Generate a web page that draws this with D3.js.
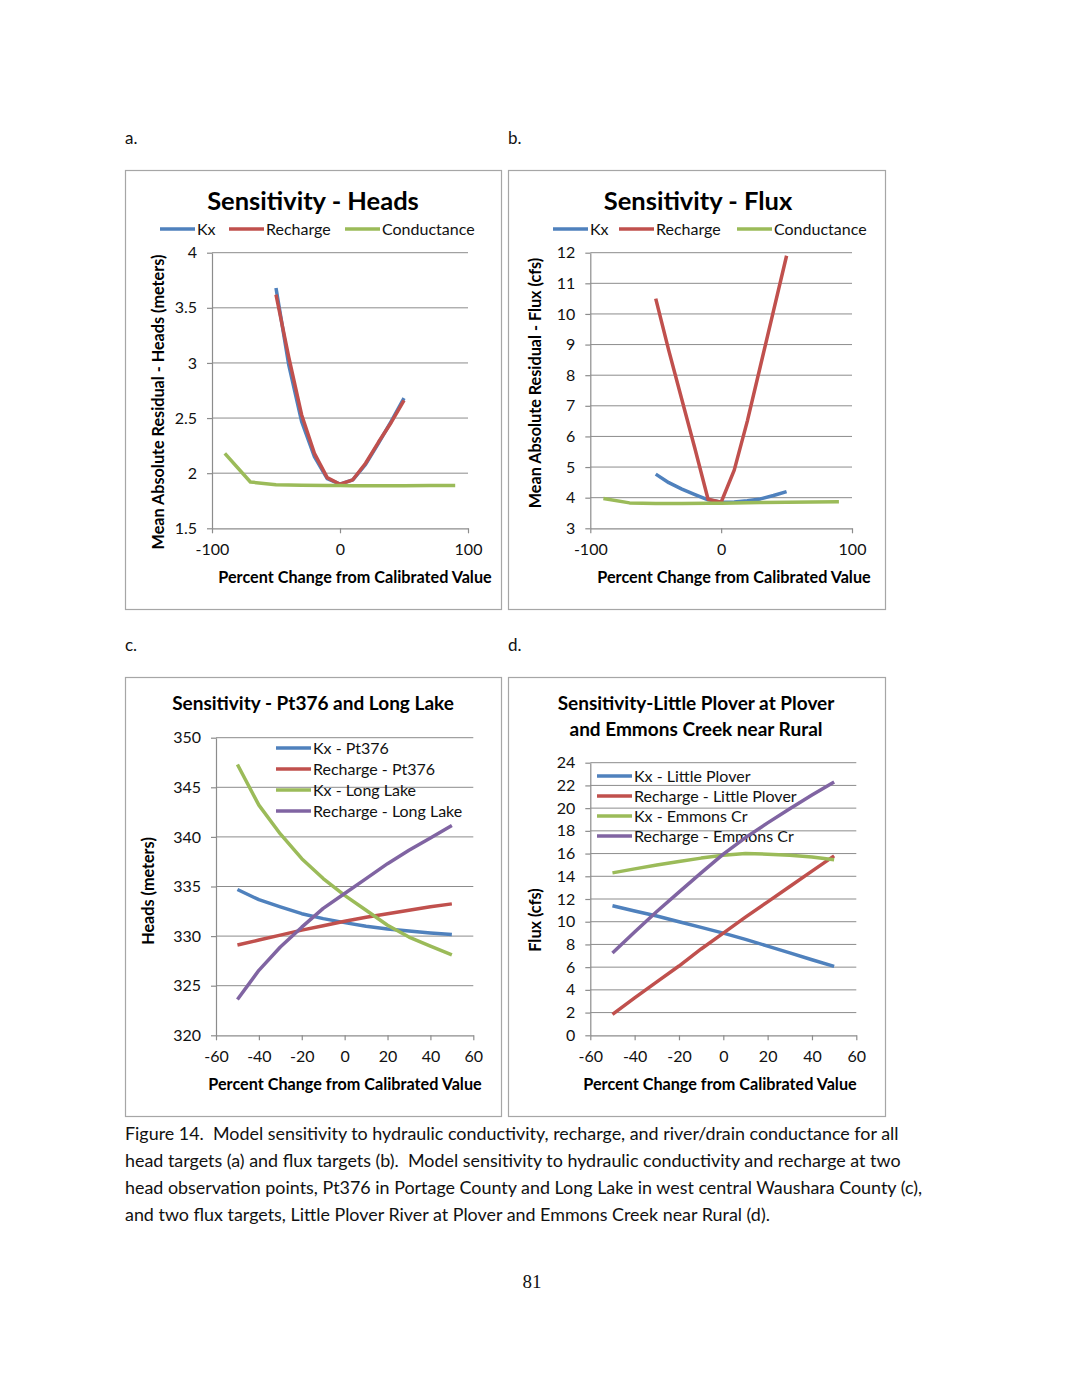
<!DOCTYPE html>
<html>
<head>
<meta charset="utf-8">
<script src="https://cdn.jsdelivr.net/npm/d3@7"></script>
<style>
  body { margin: 0; background: #fff; }
  svg { display: block; }
  text { white-space: pre; }
</style>
</head>
<body>
<svg width="1066" height="1380"></svg>
<script>
// ---- data ----
const pctMain = [-50, -40, -30, -20, -10, 0, 10, 20, 30, 40, 50];
const pctCond = [-90, -70, -50, -30, -10, 0, 10, 30, 50, 70, 90];

// a. Sensitivity - Heads (mean absolute residual, meters)
const headsKx = [3.68, 2.98, 2.47, 2.15, 1.95, 1.9, 1.94, 2.08, 2.27, 2.47, 2.68];
const headsRecharge = [3.62, 3.05, 2.53, 2.18, 1.96, 1.9, 1.94, 2.09, 2.28, 2.46, 2.66];
const headsCond = [2.18, 1.92, 1.895, 1.89, 1.888, 1.888, 1.887, 1.887, 1.887, 1.888, 1.888];

// b. Sensitivity - Flux (mean absolute residual, cfs)
const fluxKx = [4.77, 4.49, 4.28, 4.1, 3.93, 3.85, 3.86, 3.9, 3.96, 4.07, 4.2];
const fluxRecharge = [10.5, 8.8, 7.2, 5.6, 3.95, 3.85, 4.9, 6.5, 8.3, 10.1, 11.9];
const fluxCond = [3.97, 3.83, 3.81, 3.81, 3.82, 3.82, 3.83, 3.84, 3.85, 3.86, 3.87];

// c. Pt376 and Long Lake heads (meters)
const pt376Kx = [334.7, 333.67, 332.94, 332.26, 331.76, 331.36, 330.99, 330.72, 330.52, 330.32, 330.15];
const pt376Recharge = [329.1, 329.6, 330.1, 330.6, 331.05, 331.5, 331.9, 332.25, 332.6, 332.95, 333.25];
const longLakeKx = [347.3, 343.2, 340.3, 337.8, 335.8, 334.1, 332.6, 331.1, 329.9, 329.0, 328.1];
const longLakeRecharge = [323.6, 326.55, 328.9, 330.9, 332.8, 334.3, 335.8, 337.3, 338.65, 339.9, 341.15];

// d. Little Plover and Emmons Creek flux (cfs)
const ploverKx = [11.4, 10.95, 10.5, 10.0, 9.5, 9.0, 8.45, 7.85, 7.25, 6.65, 6.07];
const ploverRecharge = [1.85, 3.3, 4.7, 6.1, 7.6, 9.0, 10.4, 11.75, 13.1, 14.45, 15.8];
const emmonsKx = [14.3, 14.65, 15.0, 15.3, 15.6, 15.85, 16.0, 15.95, 15.85, 15.7, 15.45];
const emmonsRecharge = [7.25, 9.1, 10.9, 12.6, 14.3, 15.95, 17.4, 18.7, 19.95, 21.15, 22.3];

// ticks
const ticksX100 = [-100, 0, 100];
const ticksX60 = [-60, -40, -20, 0, 20, 40, 60];
const ticksHeads = [1.5, 2, 2.5, 3, 3.5, 4];
const ticksFlux = [3, 4, 5, 6, 7, 8, 9, 10, 11, 12];
const ticksHeadsC = [320, 325, 330, 335, 340, 345, 350];
const ticksFluxD = [0, 2, 4, 6, 8, 10, 12, 14, 16, 18, 20, 22, 24];

const captionLines = [
  "Figure 14.  Model sensitivity to hydraulic conductivity, recharge, and river/drain conductance for all",
  "head targets (a) and flux targets (b).  Model sensitivity to hydraulic conductivity and recharge at two",
  "head observation points, Pt376 in Portage County and Long Lake in west central Waushara County (c),",
  "and two flux targets, Little Plover River at Plover and Emmons Creek near Rural (d)."
];

const BLUE = "#4f81bd", RED = "#c0504d", GREEN = "#9bbb59", PURPLE = "#8064a2";
const FONT = "Lato, 'Open Sans', sans-serif";
const tickFmt = d => String(d); // plain hyphen minus, no trailing zeros

const svg = d3.select("svg");

function chart(c) {
  const g = svg.append("g");

  // outer frame
  g.append("rect")
    .attr("x", c.frame[0] + 0.5).attr("y", c.frame[1] + 0.5)
    .attr("width", c.frame[2]).attr("height", c.frame[3])
    .attr("fill", "#fff").attr("stroke", "#a6a6a6").attr("stroke-width", 1.2);

  const x = d3.scaleLinear().domain(c.xDomain).range([c.plot[0], c.plot[1]]);
  const y = d3.scaleLinear().domain(c.yDomain).range([c.plot[3], c.plot[2]]);

  // horizontal gridlines
  g.append("g").selectAll("line").data(c.yTicks.slice(1)).enter().append("line")
    .attr("x1", c.plot[0]).attr("x2", c.plot[1])
    .attr("y1", d => y(d)).attr("y2", d => y(d))
    .attr("stroke", "#8c8c8c").attr("stroke-width", 1);

  // axes
  const yAxis = g.append("g").attr("transform", "translate(" + c.plot[0] + ",0)")
    .call(d3.axisLeft(y).tickValues(c.yTicks).tickFormat(tickFmt)
      .tickSize(5).tickSizeOuter(0).tickPadding(10));
  const xAxis = g.append("g").attr("transform", "translate(0," + c.plot[3] + ")")
    .call(d3.axisBottom(x).tickValues(c.xTicks).tickFormat(tickFmt)
      .tickSize(5).tickSizeOuter(0).tickPadding(10));
  [xAxis, yAxis].forEach(a => {
    a.select(".domain").attr("stroke", "#8c8c8c").attr("stroke-width", 1.2);
    a.selectAll(".tick line").attr("stroke", "#8c8c8c").attr("stroke-width", 1.2);
    a.selectAll("text").attr("font-family", FONT).attr("font-size", 16).attr("fill", "#111");
  });

  // titles
  c.title.forEach((t, i) => {
    g.append("text")
      .attr("x", c.titleX).attr("y", c.titleY + i * 26)
      .attr("text-anchor", "middle")
      .attr("font-family", FONT).attr("font-weight", 700)
      .attr("font-size", c.titleSize).attr("fill", "#000")
      .text(t);
  });

  g.append("text")
    .attr("x", c.xLabel[0]).attr("y", c.xLabel[1])
    .attr("text-anchor", "middle")
    .attr("font-family", FONT).attr("font-weight", 700).attr("font-size", 16.2)
    .text("Percent Change from Calibrated Value");

  g.append("text")
    .attr("transform", "translate(" + c.yLabel[0] + "," + c.yLabel[1] + ") rotate(-90)")
    .attr("text-anchor", "middle")
    .attr("font-family", FONT).attr("font-weight", 700).attr("font-size", 16.2)
    .text(c.yLabel[2]);

  // legend
  c.series.forEach((s, i) => {
    const lx = c.legend[i][0], ly = c.legend[i][1];
    g.append("line")
      .attr("x1", lx).attr("x2", lx + 35).attr("y1", ly).attr("y2", ly)
      .attr("stroke", s.color).attr("stroke-width", 3.5);
    g.append("text")
      .attr("x", lx + 37).attr("y", ly).attr("dy", "0.35em")
      .attr("font-family", FONT).attr("font-size", 16).attr("fill", "#111")
      .text(s.name);
  });

  // lines
  const line = d3.line().x(d => x(d[0])).y(d => y(d[1]));
  c.series.forEach(s => {
    g.append("path")
      .datum(d3.zip(s.x, s.y))
      .attr("fill", "none").attr("stroke", s.color)
      .attr("stroke-width", 3.5).attr("stroke-linejoin", "round")
      .attr("d", line);
  });
}

chart({
  frame: [125, 170, 376, 439], plot: [212, 468, 252.7, 528.3],
  xDomain: [-100, 100], yDomain: [1.5, 4], xTicks: ticksX100, yTicks: ticksHeads,
  title: ["Sensitivity - Heads"], titleX: 313, titleY: 210, titleSize: 25.5,
  xLabel: [355, 583], yLabel: [164, 402, "Mean Absolute Residual - Heads (meters)"],
  legend: [[160, 229], [229, 229], [345, 229]],
  series: [
    { name: "Kx", color: BLUE, x: pctMain, y: headsKx },
    { name: "Recharge", color: RED, x: pctMain, y: headsRecharge },
    { name: "Conductance", color: GREEN, x: pctCond, y: headsCond }
  ]
});

chart({
  frame: [508, 170, 377, 439], plot: [590.3, 852, 252.7, 528.3],
  xDomain: [-100, 100], yDomain: [3, 12], xTicks: ticksX100, yTicks: ticksFlux,
  title: ["Sensitivity - Flux"], titleX: 698, titleY: 210, titleSize: 25.5,
  xLabel: [734, 583], yLabel: [541, 383, "Mean Absolute Residual - Flux (cfs)"],
  legend: [[553, 229], [619, 229], [737, 229]],
  series: [
    { name: "Kx", color: BLUE, x: pctMain, y: fluxKx },
    { name: "Recharge", color: RED, x: pctMain, y: fluxRecharge },
    { name: "Conductance", color: GREEN, x: pctCond, y: fluxCond }
  ]
});

chart({
  frame: [125, 677, 376, 439], plot: [216, 473.3, 737.7, 1035.3],
  xDomain: [-60, 60], yDomain: [320, 350], xTicks: ticksX60, yTicks: ticksHeadsC,
  title: ["Sensitivity - Pt376 and Long Lake"], titleX: 313, titleY: 710, titleSize: 19,
  xLabel: [345, 1090], yLabel: [154, 891, "Heads (meters)"],
  legend: [[276, 748], [276, 769], [276, 790], [276, 811]],
  series: [
    { name: "Kx - Pt376", color: BLUE, x: pctMain, y: pt376Kx },
    { name: "Recharge - Pt376", color: RED, x: pctMain, y: pt376Recharge },
    { name: "Kx - Long Lake", color: GREEN, x: pctMain, y: longLakeKx },
    { name: "Recharge - Long Lake", color: PURPLE, x: pctMain, y: longLakeRecharge }
  ]
});

chart({
  frame: [508, 677, 377, 439], plot: [590.3, 856.3, 762.7, 1035.3],
  xDomain: [-60, 60], yDomain: [0, 24], xTicks: ticksX60, yTicks: ticksFluxD,
  title: ["Sensitivity-Little Plover at Plover", "and Emmons Creek near Rural"],
  titleX: 696, titleY: 710, titleSize: 19,
  xLabel: [720, 1090], yLabel: [541, 920, "Flux (cfs)"],
  legend: [[597, 776], [597, 796], [597, 816], [597, 836]],
  series: [
    { name: "Kx - Little Plover", color: BLUE, x: pctMain, y: ploverKx },
    { name: "Recharge - Little Plover", color: RED, x: pctMain, y: ploverRecharge },
    { name: "Kx - Emmons Cr", color: GREEN, x: pctMain, y: emmonsKx },
    { name: "Recharge - Emmons Cr", color: PURPLE, x: pctMain, y: emmonsRecharge }
  ]
});

// panel letters
[["a.", 125, 144], ["b.", 508, 144], ["c.", 125, 651], ["d.", 508, 651]].forEach(p => {
  svg.append("text").attr("x", p[1]).attr("y", p[2])
    .attr("font-family", FONT).attr("font-size", 17).attr("fill", "#111")
    .text(p[0]);
});

// caption
svg.append("g").selectAll("text").data(captionLines).enter().append("text")
  .attr("x", 125).attr("y", (d, i) => 1140 + i * 27)
  .attr("font-family", FONT).attr("font-size", 17.9).attr("fill", "#111")
  .text(d => d);

svg.append("text").attr("x", 532).attr("y", 1288)
  .attr("text-anchor", "middle")
  .attr("font-family", "'Liberation Serif', serif").attr("font-size", 19).attr("fill", "#111")
  .text("81");
</script>
</body>
</html>
